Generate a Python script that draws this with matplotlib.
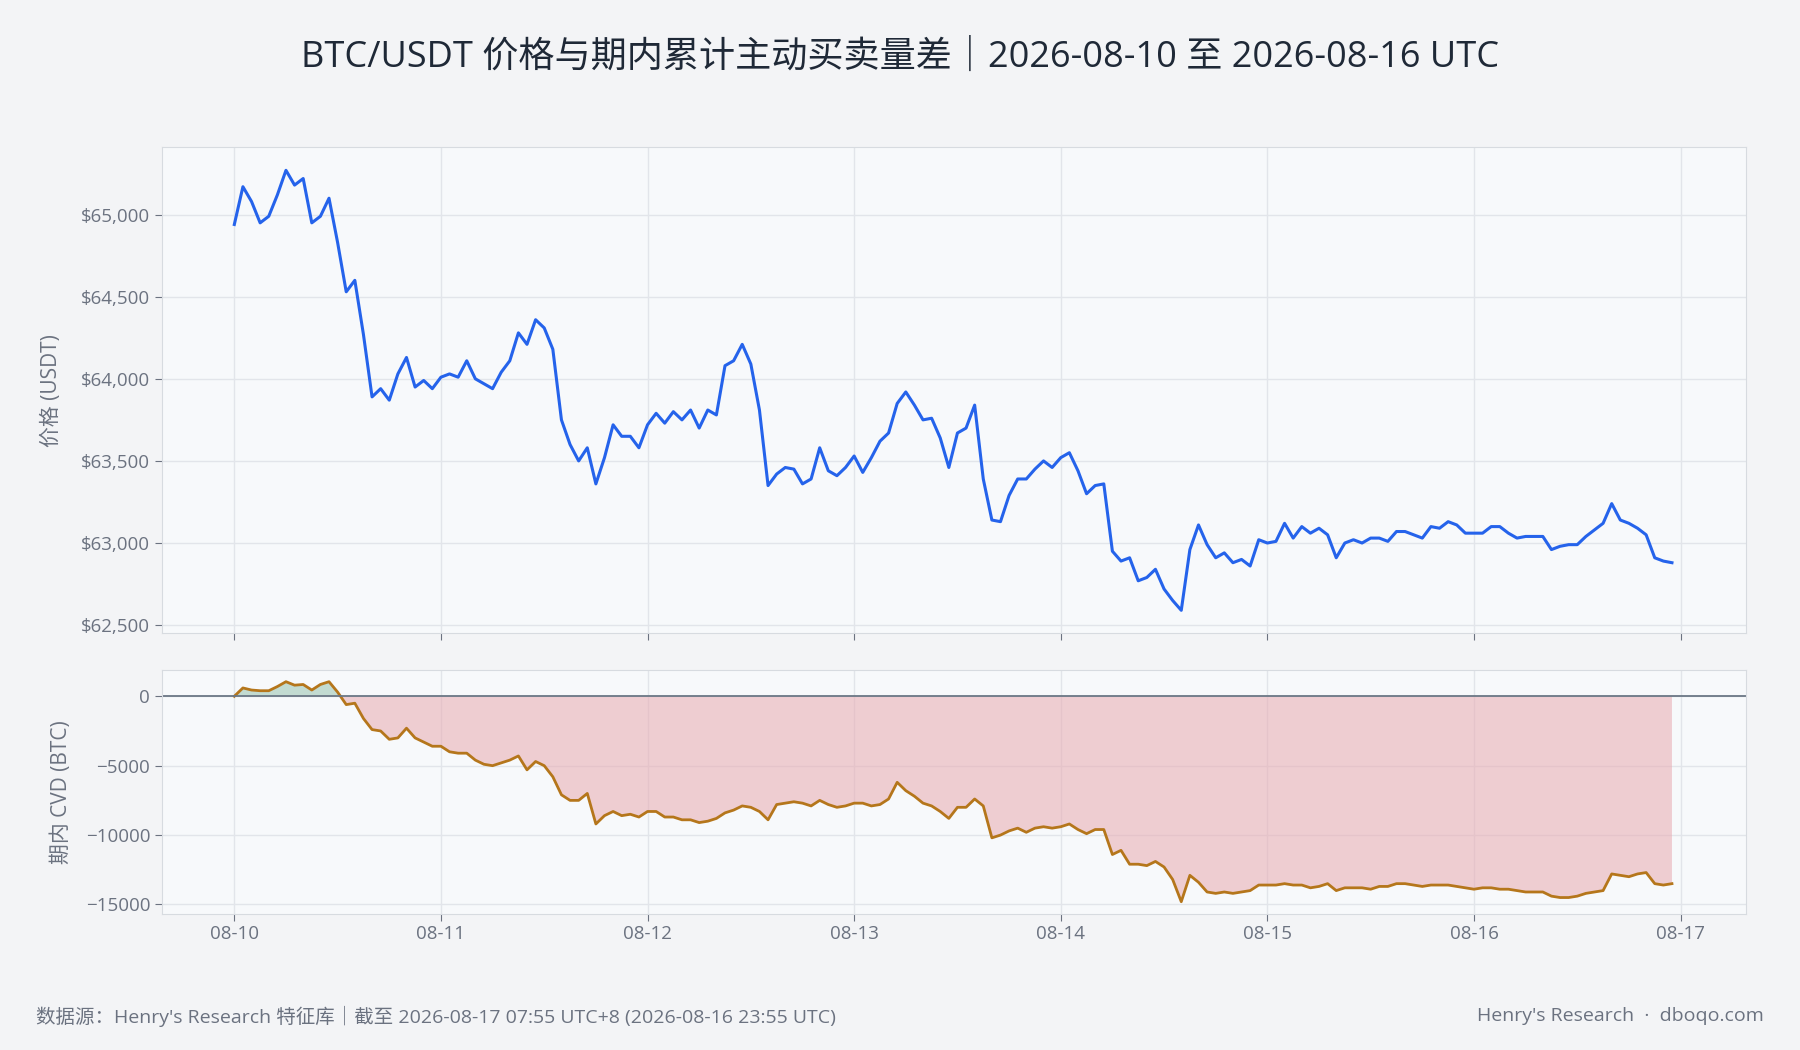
import matplotlib
matplotlib.use("Agg")
import matplotlib.pyplot as plt
import numpy as np
from matplotlib.ticker import FuncFormatter

plt.rcParams['font.family'] = ['Open Sans', 'Noto Sans CJK SC', 'DejaVu Sans']

price = [64940,65170,65080,64950,64990,65120,65270,65180,65220,64950,64990,65100,64830,64530,64600,64270,63890,63940,63870,64030,64130,63950,63990,63940,
64010,64030,64010,64110,64000,63970,63940,64040,64110,64280,64210,64360,64310,64180,63750,63600,63500,63580,63360,63520,63720,63650,63650,63580,
63720,63790,63730,63800,63750,63810,63700,63810,63780,64080,64110,64210,64090,63810,63350,63420,63460,63450,63360,63390,63580,63440,63410,63460,
63530,63430,63520,63620,63670,63850,63920,63840,63750,63760,63640,63460,63670,63700,63840,63390,63140,63130,63290,63390,63390,63450,63500,63460,
63520,63550,63440,63300,63350,63360,62950,62890,62910,62770,62790,62840,62720,62650,62590,62960,63110,62990,62910,62940,62880,62900,62860,63020,
63000,63010,63120,63030,63100,63060,63090,63050,62910,63000,63020,63000,63030,63030,63010,63070,63070,63050,63030,63100,63090,63130,63110,63060,
63060,63060,63100,63100,63060,63030,63040,63040,63040,62960,62980,62990,62990,63040,63080,63120,63240,63140,63120,63090,63050,62910,62890,62880]

cvd = [0,600,450,400,400,700,1050,800,850,450,850,1050,300,-600,-500,-1600,-2400,-2500,-3100,-3000,-2300,-3000,-3300,-3600,
-3600,-4000,-4100,-4100,-4600,-4900,-5000,-4800,-4600,-4300,-5300,-4700,-5000,-5800,-7100,-7500,-7500,-7000,-9200,-8600,-8300,-8600,-8500,-8700,
-8300,-8300,-8700,-8700,-8900,-8900,-9100,-9000,-8800,-8400,-8200,-7900,-8000,-8300,-8900,-7800,-7700,-7600,-7700,-7900,-7500,-7800,-8000,-7900,
-7700,-7700,-7900,-7800,-7400,-6200,-6800,-7200,-7700,-7900,-8300,-8800,-8000,-8000,-7400,-7900,-10200,-10000,-9700,-9500,-9800,-9500,-9400,-9500,
-9400,-9200,-9600,-9900,-9600,-9600,-11400,-11100,-12100,-12100,-12200,-11900,-12300,-13200,-14800,-12900,-13400,-14100,-14200,-14100,-14200,-14100,-14000,-13600,
-13600,-13600,-13500,-13600,-13600,-13800,-13700,-13500,-14000,-13800,-13800,-13800,-13900,-13700,-13700,-13500,-13500,-13600,-13700,-13600,-13600,-13600,-13700,-13800,
-13900,-13800,-13800,-13900,-13900,-14000,-14100,-14100,-14100,-14400,-14500,-14500,-14400,-14200,-14100,-14000,-12800,-12900,-13000,-12800,-12700,-13500,-13600,-13500]

day_labels = ['08-10','08-11','08-12','08-13','08-14','08-15','08-16','08-17']

hours = np.arange(len(price))
price = np.array(price); cvd = np.array(cvd)

fig = plt.figure(figsize=(18, 10.5), dpi=100, facecolor='#f3f4f6')
ax1 = fig.add_axes([0.090, 0.397, 0.880, 0.463])
ax2 = fig.add_axes([0.090, 0.130, 0.880, 0.232])

tc = '#6b7280'
for ax in (ax1, ax2):
    ax.set_facecolor('#f7f9fb')
    ax.grid(True, color='#e2e5ea', lw=1)
    ax.set_axisbelow(True)
    for s in ax.spines.values():
        s.set_color('#d7dbe0')
    ax.tick_params(colors=tc, labelsize=13.5, length=5, color='#6b7280')
    ax.set_xlim(-8.4, 175.6)
    ax.set_xticks(np.arange(0, 24*len(day_labels), 24))

ax1.plot(hours, price, color='#2563eb', lw=2.2)
ax1.set_ylim(62451, 65412)
ax1.set_yticks([62500, 63000, 63500, 64000, 64500, 65000])
ax1.yaxis.set_major_formatter(FuncFormatter(lambda v, p: f'${v:,.0f}'))
ax1.set_xticklabels([])
ax1.set_ylabel('价格 (USDT)', color=tc, fontsize=15)

ax2.fill_between(hours, cvd, 0, where=cvd >= 0, interpolate=True, color='#8fbfa8', alpha=0.5, lw=0)
ax2.fill_between(hours, cvd, 0, where=cvd <= 0, interpolate=True, color='#e8a9b0', alpha=0.55, lw=0)
ax2.plot(hours, cvd, color='#b5761b', lw=2)
ax2.axhline(0, color='#6b7785', lw=1.3)
ax2.set_ylim(-15650, 1900)
ax2.set_yticks([-15000, -10000, -5000, 0])
ax2.set_xticklabels(day_labels)
ax2.set_ylabel('期内 CVD (BTC)', color=tc, fontsize=15)

ax1.yaxis.set_label_coords(-0.063, 0.5)
ax2.yaxis.set_label_coords(-0.057, 0.5)

fig.text(0.5, 0.945, 'BTC/USDT 价格与期内累计主动买卖量差｜2026-08-10 至 2026-08-16 UTC',
         ha='center', va='center', fontsize=26, color='#1f2937')
fig.text(0.020, 0.032, '数据源：Henry\'s Research 特征库｜截至 2026-08-17 07:55 UTC+8 (2026-08-16 23:55 UTC)',
         ha='left', va='center', fontsize=14, color=tc)
fig.text(0.980, 0.032, 'Henry\'s Research  ·  dboqo.com', ha='right', va='center', fontsize=14, color=tc)

fig.savefig('out.png', dpi=100, facecolor=fig.get_facecolor())
